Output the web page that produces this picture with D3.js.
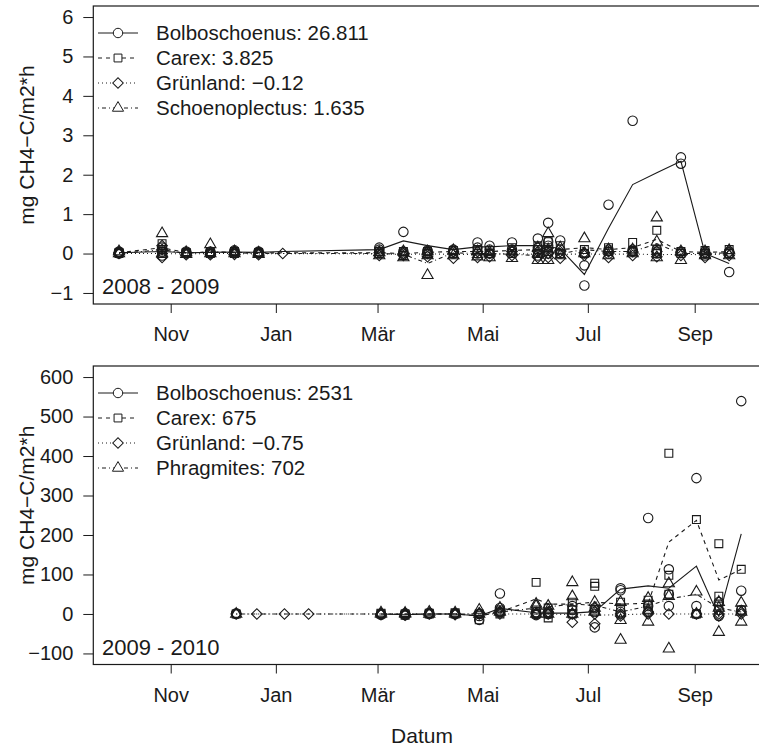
<!DOCTYPE html>
<html>
<head>
<meta charset="utf-8">
<script src="https://d3js.org/d3.v7.min.js"></script>
<style>
  body { margin: 0; background: #fff; }
  text { font-family: "Liberation Sans", Arial, sans-serif; fill: #1a1a1a; }
</style>
</head>
<body>
<svg id="vis"></svg>
<script>
// ---- data ----
var monthLabels = ["Nov", "Jan", "Mär", "Mai", "Jul", "Sep"];
var tickDates08 = ["2008-11-01", "2009-01-01", "2009-03-01", "2009-05-01", "2009-07-01", "2009-09-01"];
var tickDates10 = ["2009-11-01", "2010-01-01", "2010-03-01", "2010-05-01", "2010-07-01", "2010-09-01"];
var yTicks08 = [-1, 0, 1, 2, 3, 4, 5, 6];
var yTicks10 = [-100, 0, 100, 200, 300, 400, 500, 600];

var legend08 = ["Bolboschoenus: 26.811", "Carex: 3.825", "Grünland: \u22120.12", "Schoenoplectus: 1.635"];
var legend10 = ["Bolboschoenus: 2531", "Carex: 675", "Grünland: \u22120.75", "Phragmites: 702"];

var dates08 = ["2008-10-02", "2008-10-27", "2008-11-10", "2008-11-24", "2008-12-08", "2008-12-22",
  "2009-01-05", "2009-03-02", "2009-03-16", "2009-03-30", "2009-04-14", "2009-04-28", "2009-05-05",
  "2009-05-18", "2009-06-02", "2009-06-08", "2009-06-15", "2009-06-29", "2009-07-13", "2009-07-27",
  "2009-08-10", "2009-08-24", "2009-09-07", "2009-09-21"];

// mean lines 2008-2009
var bolboMean08 = [0.02, 0.05, 0.02, 0.03, 0.04, 0.03, 0.05, 0.1, 0.32, 0.2, 0.1, 0.17, 0.17, 0.2, 0.2, 0.18, 0.12, -0.53, 0.64, 1.75, 2.05, 2.34, 0.0, -0.25];
var carexMean08 = [0.02, 0.15, 0.02, 0.03, 0.03, 0.02, 0.02, 0.02, 0.0, 0.03, 0.05, 0.05, 0.05, 0.08, 0.1, 0.15, 0.1, 0.15, 0.1, 0.15, 0.36, 0.05, 0.03, 0.05];
var gruenMean08 = [0.0, 0.0, -0.01, 0.0, 0.0, -0.01, 0.0, -0.01, -0.02, -0.01, -0.02, -0.03, -0.02, 0.0, -0.02, -0.03, -0.02, -0.01, -0.02, -0.01, -0.03, -0.02, -0.03, -0.01];
var schoenoMean08 = [0.0, 0.1, 0.0, 0.05, 0.02, 0.0, 0.0, 0.0, -0.02, -0.25, 0.02, 0.0, 0.0, -0.02, -0.05, 0.05, 0.0, 0.1, 0.05, 0.05, 0.25, 0.0, 0.0, 0.02];

// single measurements 2008-2009 (null = not sampled)
var bolboPts08 = [[0, 0.03, 0.05], [-0.05, 0.05, 0.15], [0, 0.02, 0.05], [0, 0.05, 0.03], [0.02, 0.08, 0.05],
  [0, 0.05, 0.03], null, [0.05, 0.1, 0.15], [0, 0.05, 0.55], [0, 0.05, 0.08], [0, 0.1, 0.05], [0, 0.15, 0.28],
  [0, 0.1, 0.2], [0.05, 0.1, 0.28], [-0.05, 0.15, 0.38], [0, 0.2, 0.3, 0.78], [0, 0.1, 0.33], [-0.81, -0.3, 0],
  [0, 0.1, 1.24], [0.05, 0.1, 3.37], [0, 0.05, 0.1], [0.05, 2.28, 2.44], [-0.05, 0, 0.05], [-0.47, 0, 0.05]];
var carexPts08 = [[0, 0.03], [0, 0.1, 0.25], [0, 0.03], [0, 0.05], [0, 0.05], [0, 0.03], null, [0, 0.05],
  [-0.05, 0.05], [0, 0.05], [0, 0.08], [0, 0.1], [0, 0.08], [0, 0.15], [0, 0.1, 0.2], [0.05, 0.3, 0.15],
  [0, 0.2], [0, 0.1], [0.05, 0.15], [0.05, 0.28], [0, 0.1, 0.59], [0, 0.05], [0, 0.08], [0, 0.1]];
var gruenPts08 = [[0, 0.02], [-0.1, 0.1, 0.2], [-0.03, 0.02], [-0.03, 0.02], [-0.02, 0.03], [-0.03, 0.02], [0],
  [-0.05, 0.02], [-0.05, 0], [-0.08, 0], [-0.12, 0.05], [-0.1, 0.05], [-0.08, 0], [-0.05, 0.05], [-0.1, 0.05],
  [-0.1, 0], [-0.12, 0.05], [-0.05, 0.02], [-0.1, 0.05], [-0.05, 0.05], [-0.08, 0.05], [-0.05, 0.02],
  [-0.1, 0.02], [-0.05, 0.03]];
var schoenoPts08 = [[0, 0.05], [0, 0.51], [-0.02, 0.03], [0, 0.23], [0, 0.05], [-0.02, 0.02], null, [-0.05, 0.03],
  [-0.1, 0.05], [-0.55, -0.05, 0.05], [-0.05, 0.08], [-0.08, 0.05], [-0.1, 0.03], [-0.12, 0.05],
  [-0.17, 0, 0.15], [-0.17, 0.1, 0.51], [-0.05, 0.15], [0, 0.38], [-0.05, 0.1], [0, 0.1], [-0.1, 0.3, 0.91],
  [-0.17, 0.05], [-0.05, 0.05], [-0.05, 0.08]];

var dates10 = ["2009-12-09", "2009-12-21", "2010-01-06", "2010-01-20", "2010-03-03", "2010-03-17",
  "2010-03-31", "2010-04-15", "2010-04-29", "2010-05-11", "2010-06-01", "2010-06-08", "2010-06-22",
  "2010-07-05", "2010-07-20", "2010-08-05", "2010-08-17", "2010-09-02", "2010-09-15", "2010-09-28"];

// mean lines 2009-2010
var bolboMean10 = [0, null, null, null, 0, -2, 0, 0, -5, 14, 3, 2, 2, 6, 63, 71, 65, 121, -7, 203];
var carexMean10 = [0, null, null, null, 0, 0, 0, 0, -5, 5, 38, 25, 25, 30, 25, 27, 182, 237, 86, 113];
var gruenMean10 = [0, 0, 0, 0, 0, 0, 0, 0, 0, 0, 0, 0, -2, -3, -2, 0, 0, 0, 0, 0];
var phragMean10 = [0, 0, 0, 0, 0, 0, 0, 0, 0, 5, 15, 18, 25, 22, 5, 20, 38, 50, 15, 5];

// single measurements 2009-2010
var bolboPts10 = [[0, 2], null, null, null, [0, -2], [-3, 2], [0, 3], [0, 2], [-15, -5, 0], [5, 15, 52],
  [0, 5, -3], [0, 5], [0, 10, 20], [-34, 5, 15], [5, 60, 65], [5, 20, 243], [20, 113, 50], [0, 20, 344],
  [-5, 10, 30], [10, 59, 539]];
var carexPts10 = [[0], null, null, null, [0, 2], [0, -3], [0, 2], [0, 3], [-15, 0], [0, 5, 10], [0, 10, 80],
  [-10, 0, 15], [0, 10, 30], [10, 70, 78], [0, 15, 30], [10, 25, 35], [50, 98, 407], [0, 239],
  [20, 45, 178], [10, 113]];
var gruenPts10 = [[0], [0], [0], [0], [0, -2], [-3, 0], [0], [0, -2], [0, 2], [0, 5], [0, 2], [0, 5], [-21, 0],
  [-25, 0], [-5, 0], [0, 5], [0], [0], [-5, 0], [0, 5]];
var phragPts10 = [[0], null, null, null, [0, 3], [0, 2], [0, 5], [0, 3], [0, 10], [5, 15], [0, 20, 25],
  [0, 10, 20], [0, 44, 80], [5, 15, 30], [-66, -16, 30], [-20, 10, 40], [-88, 45, 77], [0, 56],
  [-46, 15, 30], [-20, 5, 28]];

// ---- drawing ----
var W = 759, H = 750;
var ink = "#1a1a1a";
var parse = d3.utcParse("%Y-%m-%d");
var dashes = [null, "4,4", "1,3", "1,3,4,3"];
var shapes = ["circle", "square", "diamond", "triangle"];

var svg = d3.select("#vis").attr("width", W).attr("height", H);

function symbolPath(shape) {
  if (shape === "circle") return d3.symbol(d3.symbolCircle, 70)();
  if (shape === "square") return d3.symbol(d3.symbolSquare, 62)();
  if (shape === "diamond") return d3.symbol(d3.symbolSquare, 56)();
  return d3.symbol(d3.symbolTriangle, 54)();
}

function drawPanel(p) {
  var g = svg.append("g");
  var left = 93.3, right = 765;

  var x = d3.scaleUtc()
    .domain([parse(p.ticks[0]), parse(p.ticks[5])])
    .range([170.7, 694.7]);

  var lo = p.yTicks[0], hi = p.yTicks[p.yTicks.length - 1], ext = (hi - lo) * 0.04;
  var y = d3.scaleLinear()
    .domain([lo - ext, hi + ext])
    .range([p.bottom, p.top]);

  // box
  g.append("rect")
    .attr("x", left).attr("y", p.top)
    .attr("width", right - left).attr("height", p.bottom - p.top)
    .attr("fill", "none").attr("stroke", ink).attr("stroke-width", 1.2);

  // x axis
  var xAxis = d3.axisBottom(x)
    .tickValues(p.ticks.map(parse))
    .tickFormat(function(d, i) { return monthLabels[i]; })
    .tickSize(9).tickPadding(14);
  var ax = g.append("g").attr("transform", "translate(0," + p.bottom + ")").call(xAxis);
  ax.select(".domain").remove();
  ax.selectAll("line").attr("stroke", ink);
  ax.selectAll("text").attr("font-size", 20).attr("fill", ink)
    .attr("font-family", "Liberation Sans, Arial, sans-serif");

  // y axis
  var yAxis = d3.axisLeft(y).tickValues(p.yTicks)
    .tickFormat(function(d) { return d < 0 ? "\u2212" + Math.abs(d) : d; })
    .tickSize(10).tickPadding(10);
  var ay = g.append("g").attr("transform", "translate(" + left + ",0)").call(yAxis);
  ay.select(".domain").remove();
  ay.selectAll("line").attr("stroke", ink);
  ay.selectAll("text").attr("font-size", 20).attr("fill", ink)
    .attr("font-family", "Liberation Sans, Arial, sans-serif");

  g.append("text")
    .attr("transform", "translate(34," + ((p.top + p.bottom) / 2 - 10) + ") rotate(-90)")
    .attr("text-anchor", "middle")
    .attr("font-size", 21)
    .text("mg CH4\u2212C/m2*h");

  // mean lines
  p.means.forEach(function(m, k) {
    var line = d3.line()
      .defined(function(d) { return d != null; })
      .x(function(d, i) { return x(parse(p.dates[i])); })
      .y(function(d) { return y(d); });
    g.append("path")
      .datum(m)
      .attr("d", line)
      .attr("fill", "none")
      .attr("stroke", ink)
      .attr("stroke-width", 1.1)
      .attr("stroke-dasharray", dashes[k]);
  });

  // single points
  p.points.forEach(function(series, k) {
    var flat = [];
    series.forEach(function(vals, i) {
      if (!vals) return;
      vals.forEach(function(v) { flat.push({ date: parse(p.dates[i]), v: v }); });
    });
    g.selectAll(null)
      .data(flat)
      .enter().append("path")
      .attr("d", symbolPath(shapes[k]))
      .attr("transform", function(d) {
        return "translate(" + x(d.date) + "," + y(d.v) + ")" + (shapes[k] === "diamond" ? " rotate(45)" : "");
      })
      .attr("fill", "none")
      .attr("stroke", ink)
      .attr("stroke-width", 1.1);
  });

  // legend
  var lg = g.append("g").attr("transform", "translate(0," + (p.top + 27) + ")");
  var rows = lg.selectAll("g").data(p.legend).enter().append("g")
    .attr("transform", function(d, i) { return "translate(0," + (i * 25) + ")"; });
  rows.append("line")
    .attr("x1", 98).attr("x2", 138).attr("y1", 0).attr("y2", 0)
    .attr("stroke", ink).attr("stroke-width", 1)
    .attr("stroke-dasharray", function(d, i) { return dashes[i]; });
  rows.append("path")
    .attr("d", function(d, i) { return symbolPath(shapes[i]); })
    .attr("transform", function(d, i) { return "translate(118,0)" + (shapes[i] === "diamond" ? " rotate(45)" : ""); })
    .attr("fill", "#fff").attr("stroke", ink);
  rows.append("text")
    .attr("x", 156).attr("y", 7)
    .attr("font-size", 20.5)
    .text(function(d) { return d; });

  g.append("text")
    .attr("x", 102).attr("y", p.bottom - 10)
    .attr("font-size", 22)
    .text(p.label);
}

drawPanel({
  top: 6, bottom: 304, ticks: tickDates08, yTicks: yTicks08, dates: dates08, label: "2008 - 2009",
  legend: legend08,
  means: [bolboMean08, carexMean08, gruenMean08, schoenoMean08],
  points: [bolboPts08, carexPts08, gruenPts08, schoenoPts08]
});
drawPanel({
  top: 366, bottom: 664.5, ticks: tickDates10, yTicks: yTicks10, dates: dates10, label: "2009 - 2010",
  legend: legend10,
  means: [bolboMean10, carexMean10, gruenMean10, phragMean10],
  points: [bolboPts10, carexPts10, gruenPts10, phragPts10]
});

svg.append("text")
  .attr("x", 422).attr("y", 743)
  .attr("text-anchor", "middle")
  .attr("font-size", 21)
  .text("Datum");
</script>
</body>
</html>
